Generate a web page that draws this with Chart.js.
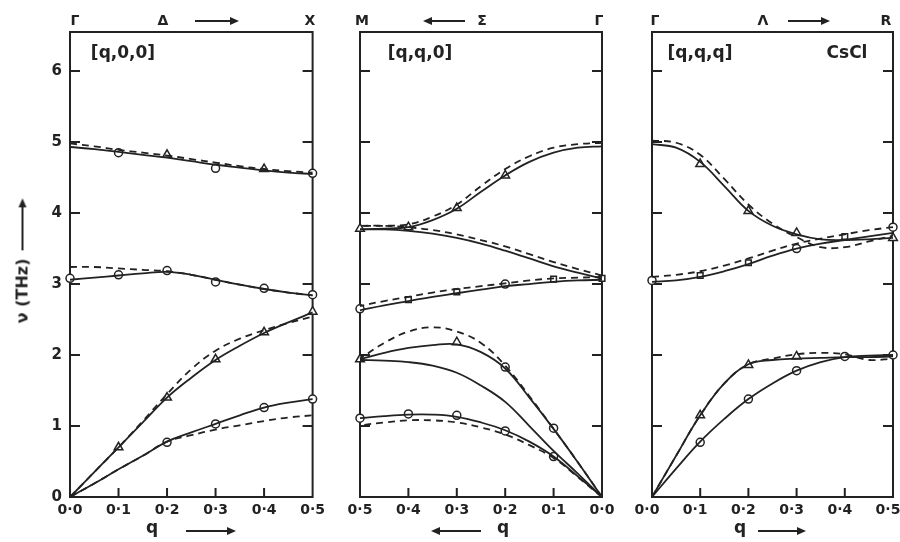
<!DOCTYPE html>
<html>
<head>
<meta charset="utf-8">
<script src="https://cdn.jsdelivr.net/npm/chart.js@4.4.1/dist/chart.umd.min.js"></script>
<style>
    body { margin: 0; background: #fff; }
    #wrap { position: relative; width: 900px; height: 542px; overflow: hidden; font-family: "DejaVu Sans", sans-serif; color: #222; }
    canvas { position: absolute; top: 0; }
    .lbl { position: absolute; transform: translate(-50%, -50%); font-weight: bold; font-size: 14px; line-height: 1; white-space: nowrap; }
    .big { font-size: 17px; }
    .arr { position: absolute; height: 2px; background: #222; }
    .arr.r::after { content: ''; position: absolute; right: -2px; top: -3px; border-left: 9px solid #222; border-top: 4px solid transparent; border-bottom: 4px solid transparent; }
    .arr.l::before { content: ''; position: absolute; left: -2px; top: -3px; border-right: 9px solid #222; border-top: 4px solid transparent; border-bottom: 4px solid transparent; }
    #ytitle { position: absolute; left: 22px; top: 262px; transform: translate(-50%, -50%) rotate(-90deg); font-weight: bold; font-size: 16px; white-space: nowrap; display: flex; align-items: center; }
    #ytitle .arr { position: relative; display: inline-block; width: 50px; margin-left: 8px; }
</style>
</head>
<body>
<div id="wrap">
    <canvas id="p1" width="330" height="542" style="left:0px"></canvas>
    <canvas id="p2" width="290" height="542" style="left:330px"></canvas>
    <canvas id="p3" width="300" height="542" style="left:620px"></canvas>

    <!-- labels above the panels -->
    <div class="lbl" style="left:75px;top:20px">Γ</div>
    <div class="lbl" style="left:163px;top:20px">Δ</div>
    <div class="arr r" style="left:195px;width:42px;top:20px"></div>
    <div class="lbl" style="left:310px;top:20px">X</div>

    <div class="lbl" style="left:362px;top:20px">M</div>
    <div class="arr l" style="left:425px;width:40px;top:20px"></div>
    <div class="lbl" style="left:482px;top:20px">Σ</div>
    <div class="lbl" style="left:599px;top:20px">Γ</div>

    <div class="lbl" style="left:655px;top:20px">Γ</div>
    <div class="lbl" style="left:763px;top:20px">Λ</div>
    <div class="arr r" style="left:788px;width:40px;top:20px"></div>
    <div class="lbl" style="left:886px;top:20px">R</div>

    <!-- labels inside the panels -->
    <div class="lbl big" style="left:123px;top:52px">[q,0,0]</div>
    <div class="lbl big" style="left:420px;top:52px">[q,q,0]</div>
    <div class="lbl big" style="left:700px;top:52px">[q,q,q]</div>
    <div class="lbl big" style="left:847px;top:52px">CsCl</div>

    <!-- q labels under the panels -->
    <div class="lbl big" style="left:152px;top:527px">q</div>
    <div class="arr r" style="left:186px;width:48px;top:530px"></div>
    <div class="arr l" style="left:433px;width:48px;top:530px"></div>
    <div class="lbl big" style="left:503px;top:527px">q</div>
    <div class="lbl big" style="left:740px;top:527px">q</div>
    <div class="arr r" style="left:758px;width:46px;top:530px"></div>

    <div id="ytitle"><span>ν (THz)</span><span class="arr r"></span></div>
</div>

<script>
// 波矢网格与刻度
const qGrid = [0, 0.05, 0.1, 0.15, 0.2, 0.25, 0.3, 0.35, 0.4, 0.45, 0.5];
const qTicks = [0, 0.1, 0.2, 0.3, 0.4, 0.5];
const qTickLabels = ['0·0', '0·1', '0·2', '0·3', '0·4', '0·5'];
const nuTicks = [0, 1, 2, 3, 4, 5, 6];
const nuMax = 6.55;

// [q,0,0] 面板 (Γ -> X)
const p1OptHighSolid = [4.93, 4.90, 4.86, 4.82, 4.78, 4.73, 4.68, 4.64, 4.60, 4.57, 4.55];
const p1OptHighDash  = [4.98, 4.94, 4.89, 4.85, 4.81, 4.76, 4.71, 4.66, 4.62, 4.59, 4.57];
const p1OptLowSolid  = [3.06, 3.09, 3.12, 3.15, 3.17, 3.13, 3.06, 2.99, 2.93, 2.88, 2.84];
const p1OptLowDash   = [3.24, 3.24, 3.22, 3.20, 3.18, 3.13, 3.06, 2.99, 2.93, 2.88, 2.84];
const p1LASolid      = [0, 0.35, 0.70, 1.05, 1.40, 1.68, 1.93, 2.13, 2.31, 2.46, 2.60];
const p1LADash       = [0, 0.35, 0.70, 1.07, 1.45, 1.80, 2.06, 2.23, 2.35, 2.45, 2.54];
const p1TASolid      = [0, 0.19, 0.39, 0.58, 0.78, 0.91, 1.03, 1.15, 1.26, 1.33, 1.38];
const p1TADash       = [0, 0.19, 0.39, 0.58, 0.78, 0.87, 0.95, 1.01, 1.07, 1.12, 1.15];
const p1CircleQ  = [0, 0.1, 0.2, 0.3, 0.4, 0.5, 0.1, 0.3, 0.5, 0.2, 0.3, 0.4, 0.5];
const p1CircleNu = [3.08, 3.13, 3.19, 3.03, 2.94, 2.85, 4.85, 4.63, 4.56, 0.77, 1.03, 1.26, 1.38];
const p1TriQ  = [0.2, 0.4, 0.1, 0.2, 0.3, 0.4, 0.5];
const p1TriNu = [4.82, 4.62, 0.70, 1.40, 1.94, 2.32, 2.61];

// [q,q,0] 面板 (M <- Γ)
const p2TopSolid  = [4.94, 4.92, 4.85, 4.72, 4.53, 4.30, 4.06, 3.90, 3.80, 3.78, 3.77];
const p2TopDash   = [4.99, 4.97, 4.92, 4.80, 4.62, 4.38, 4.12, 3.95, 3.84, 3.82, 3.82];
const p2DownSolid = [3.08, 3.16, 3.25, 3.36, 3.47, 3.57, 3.65, 3.71, 3.75, 3.77, 3.77];
const p2DownDash  = [3.12, 3.21, 3.31, 3.42, 3.53, 3.62, 3.70, 3.76, 3.80, 3.82, 3.82];
const p2MidSolid  = [3.06, 3.05, 3.03, 3.00, 2.97, 2.92, 2.87, 2.82, 2.76, 2.70, 2.63];
const p2MidDash   = [3.10, 3.09, 3.08, 3.05, 3.01, 2.97, 2.93, 2.88, 2.82, 2.76, 2.69];
const p2LASolid   = [0, 0.49, 0.96, 1.40, 1.81, 2.04, 2.15, 2.14, 2.10, 2.03, 1.94];
const p2LADash    = [0, 0.49, 0.96, 1.42, 1.85, 2.17, 2.33, 2.39, 2.33, 2.17, 1.95];
const p2T2Solid   = [0, 0.33, 0.65, 1.00, 1.34, 1.57, 1.75, 1.85, 1.90, 1.92, 1.93];
const p2T1Solid   = [0, 0.29, 0.57, 0.78, 0.94, 1.05, 1.13, 1.16, 1.16, 1.14, 1.11];
const p2T1Dash    = [0, 0.28, 0.55, 0.73, 0.88, 0.98, 1.05, 1.08, 1.08, 1.05, 1.01];
const p2CircleQ  = [0.5, 0.2, 0.5, 0.4, 0.3, 0.2, 0.1, 0.2, 0.1];
const p2CircleNu = [2.65, 3.00, 1.11, 1.17, 1.15, 0.93, 0.57, 1.83, 0.97];
const p2SquareQ  = [0.4, 0.3, 0.1, 0.0];
const p2SquareNu = [2.78, 2.89, 3.07, 3.08];
const p2TriQ  = [0.5, 0.4, 0.3, 0.2, 0.5, 0.3];
const p2TriNu = [3.78, 3.80, 4.07, 4.53, 1.94, 2.18];

// [q,q,q] 面板 (Γ -> R)
const p3TopSolid = [4.97, 4.92, 4.72, 4.38, 4.03, 3.82, 3.70, 3.63, 3.62, 3.63, 3.65];
const p3TopDash  = [5.02, 4.99, 4.82, 4.48, 4.12, 3.85, 3.66, 3.52, 3.52, 3.60, 3.68];
const p3OptSolid = [3.03, 3.05, 3.10, 3.18, 3.28, 3.40, 3.50, 3.57, 3.62, 3.67, 3.72];
const p3OptDash  = [3.10, 3.13, 3.18, 3.26, 3.36, 3.47, 3.57, 3.64, 3.70, 3.76, 3.80];
const p3LASolid  = [0, 0.58, 1.15, 1.60, 1.87, 1.93, 1.95, 1.96, 1.97, 1.97, 1.98];
const p3LADash   = [0, 0.58, 1.15, 1.60, 1.87, 1.95, 2.01, 2.03, 2.01, 1.93, 1.95];
const p3TASolid  = [0, 0.40, 0.78, 1.10, 1.38, 1.60, 1.78, 1.90, 1.97, 1.99, 2.00];
const p3CircleQ  = [0, 0.3, 0.5, 0.4, 0.5, 0.1, 0.2, 0.3];
const p3CircleNu = [3.05, 3.50, 3.80, 1.98, 2.00, 0.77, 1.38, 1.78];
const p3SquareQ  = [0.1, 0.2, 0.4];
const p3SquareNu = [3.12, 3.30, 3.67];
const p3TriQ  = [0.1, 0.2, 0.3, 0.5, 0.1, 0.2, 0.3];
const p3TriNu = [4.69, 4.03, 3.72, 3.65, 1.15, 1.86, 1.98];

const INK = '#222';

// 边框与内向刻度
const framePlugin = {
    id: 'frame',
    beforeDatasetsDraw(chart) {
        const { ctx, chartArea: a, scales: { x, y } } = chart;
        ctx.save();
        ctx.strokeStyle = INK;
        ctx.lineWidth = 2;
        ctx.strokeRect(a.left, a.top, a.right - a.left, a.bottom - a.top);
        ctx.beginPath();
        nuTicks.slice(1).forEach(v => {
            const py = y.getPixelForValue(v);
            ctx.moveTo(a.left, py); ctx.lineTo(a.left + 10, py);
            ctx.moveTo(a.right, py); ctx.lineTo(a.right - 10, py);
        });
        qTicks.slice(1, -1).forEach(v => {
            const px = x.getPixelForValue(v);
            ctx.moveTo(px, a.bottom); ctx.lineTo(px, a.bottom - 9);
        });
        ctx.stroke();
        ctx.restore();
    }
};

function curve(values, dashed) {
    return {
        data: qGrid.map((q, i) => ({ x: q, y: values[i] })),
        borderColor: INK,
        borderWidth: 1.8,
        borderDash: dashed ? [7, 5] : [],
        pointRadius: 0,
        tension: 0.4,
        fill: false,
        clip: false
    };
}

function markers(qs, nus, style, radius) {
    return {
        data: qs.map((q, i) => ({ x: q, y: nus[i] })),
        showLine: false,
        pointStyle: style,
        pointRadius: radius,
        pointBackgroundColor: '#fff',
        pointBorderColor: INK,
        pointBorderWidth: 1.5,
        clip: false
    };
}

// 创建一个面板
function makePanel(id, cfg) {
    const datasets = [];
    cfg.solid.forEach(v => datasets.push(curve(v, false)));
    cfg.dashed.forEach(v => datasets.push(curve(v, true)));
    cfg.marks.forEach(m => datasets.push(markers(m[0], m[1], m[2], m[3])));

    new Chart(document.getElementById(id), {
        type: 'line',
        data: { datasets },
        plugins: [framePlugin],
        options: {
            responsive: false,
            animation: false,
            layout: { padding: { top: 32, right: cfg.padRight, left: 0, bottom: 0 } },
            plugins: { legend: { display: false }, tooltip: { enabled: false } },
            scales: {
                x: {
                    type: 'linear',
                    min: 0,
                    max: 0.5,
                    reverse: !!cfg.reverse,
                    afterBuildTicks: s => { s.ticks = qTicks.map(v => ({ value: v })); },
                    afterFit: s => { s.height = 45; },
                    grid: { display: false, drawTicks: false },
                    border: { display: false },
                    ticks: {
                        callback: v => qTickLabels[qTicks.indexOf(v)],
                        font: { family: 'DejaVu Sans', size: 14, weight: 'bold' },
                        color: INK,
                        padding: 5,
                        labelOffset: cfg.labelShift || 0,
                        maxRotation: 0,
                        autoSkip: false
                    }
                },
                y: {
                    type: 'linear',
                    min: 0,
                    max: nuMax,
                    afterBuildTicks: s => { s.ticks = nuTicks.map(v => ({ value: v })); },
                    afterFit: s => { s.width = cfg.axisWidth; },
                    grid: { display: false, drawTicks: false },
                    border: { display: false },
                    ticks: {
                        display: !!cfg.showNu,
                        font: { family: 'DejaVu Sans', size: 15, weight: 'bold' },
                        color: INK,
                        padding: 8
                    }
                }
            }
        }
    });
}

makePanel('p1', {
    axisWidth: 70, padRight: 17, showNu: true,
    solid: [p1OptHighSolid, p1OptLowSolid, p1LASolid, p1TASolid],
    dashed: [p1OptHighDash, p1OptLowDash, p1LADash, p1TADash],
    marks: [[p1CircleQ, p1CircleNu, 'circle', 4], [p1TriQ, p1TriNu, 'triangle', 5]]
});

makePanel('p2', {
    axisWidth: 30, padRight: 18, reverse: true,
    solid: [p2TopSolid, p2DownSolid, p2MidSolid, p2LASolid, p2T2Solid, p2T1Solid],
    dashed: [p2TopDash, p2DownDash, p2MidDash, p2LADash, p2T1Dash],
    marks: [[p2CircleQ, p2CircleNu, 'circle', 4], [p2SquareQ, p2SquareNu, 'rect', 4], [p2TriQ, p2TriNu, 'triangle', 5]]
});

makePanel('p3', {
    axisWidth: 32, padRight: 27, labelShift: -5,
    solid: [p3TopSolid, p3OptSolid, p3LASolid, p3TASolid],
    dashed: [p3TopDash, p3OptDash, p3LADash],
    marks: [[p3CircleQ, p3CircleNu, 'circle', 4], [p3SquareQ, p3SquareNu, 'rect', 4], [p3TriQ, p3TriNu, 'triangle', 5]]
});
</script>
</body>
</html>
